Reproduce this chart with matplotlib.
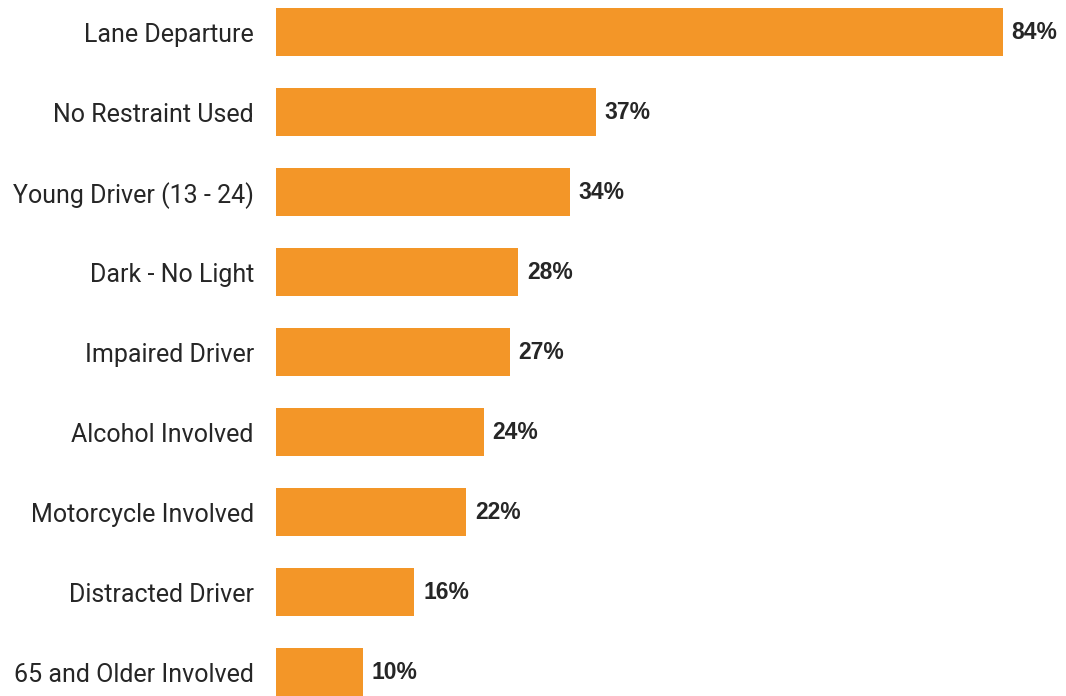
import matplotlib.pyplot as plt

categories = ['Lane Departure', 'No Restraint Used', 'Young Driver (13 - 24)',
              'Dark - No Light', 'Impaired Driver', 'Alcohol Involved',
              'Motorcycle Involved', 'Distracted Driver', '65 and Older Involved']
values = [84, 37, 34, 28, 27, 24, 22, 16, 10]

BAR = '#f39628'
TXT = '#262626'

fig = plt.figure(figsize=(10.66, 6.96), dpi=100)
ax = fig.add_axes([276 / 1066, 0, 1 - 276 / 1066, 1])

pos = list(range(len(categories)))
ax.barh(pos, values, height=0.6, color=BAR)
ax.set_xlim(0, 91.28)
ax.set_ylim(8.30, -0.405)

for p, v in zip(pos, values):
    ax.text(v + 1.0, p, f'{v}%', va='center', ha='left', fontsize=16.5,
            fontweight='bold', color=TXT, family='Liberation Sans')

ax.set_yticks(pos)
ax.set_yticklabels(categories, fontsize=18, color=TXT, family='Roboto')
ax.tick_params(axis='y', length=0, pad=16)
ax.set_xticks([])
for s in ax.spines.values():
    s.set_visible(False)

fig.savefig('out.png', dpi=100)
